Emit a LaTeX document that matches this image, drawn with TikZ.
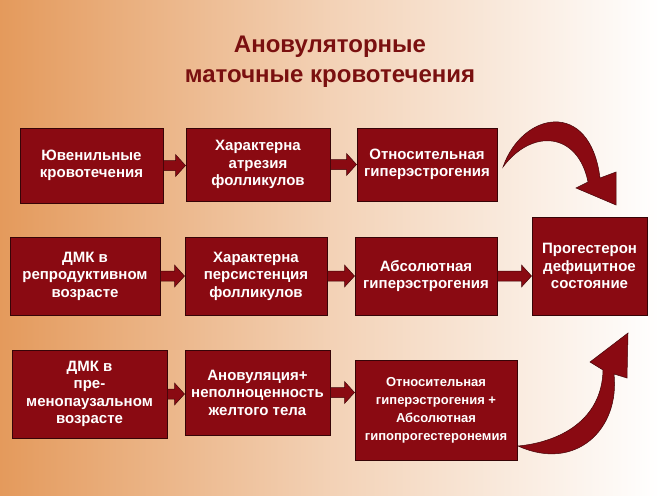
\documentclass[tikz,border=0pt]{standalone}
\usepackage{fontspec}
\setmainfont{Liberation Sans}
\usetikzlibrary{arrows.meta,calc}
\definecolor{boxred}{HTML}{8A0A12}
\definecolor{titred}{HTML}{7A1010}
\definecolor{bgor}{HTML}{E49A5C}
\tikzset{
  box/.style={draw=black!60!boxred, line width=1pt, fill=boxred, text=white, font=\fontsize{15}{17.5}\selectfont\bfseries, align=center, inner sep=1pt},
  blk/.style={fill=boxred, draw=black!50!boxred, line width=0.5pt}
}
\newcommand{\bx}[6]{\node[box, minimum width=#4-#2, minimum height=#5-#3] (#1) at ({(#2+#4)/2},{(#3+#5)/2}) {#6};}
\newcommand{\barrow}[2]{%
  \path (#1.east) coordinate (s) (#2.west |- #1.east) coordinate (e);
  \fill[blk] ($(s)+(0,-5)$) -- ($(e)+(-10,-5)$) -- ($(e)+(-10,-11)$) -- (e) -- ($(e)+(-10,11)$) -- ($(e)+(-10,5)$) -- ($(s)+(0,5)$) -- cycle;}
\begin{document}
\begin{tikzpicture}[x=1pt,y=-1pt]
\shade[left color=bgor, right color=white, middle color=bgor!45] (0,0) rectangle (660,495);
\useasboundingbox (0,0) rectangle (660,495);
\node[text=titred, font=\fontsize{24}{30}\selectfont\bfseries, align=center] (title) at (330,62) {Ановуляторные\\маточные кровотечения};
\bx{a1}{20}{128}{163}{203}{Ювенильные\\кровотечения}
\bx{a2}{186}{128}{330}{201}{Характерна\\атрезия\\фолликулов}
\bx{a3}{357}{128}{497}{201}{Относительная\\гиперэстрогения}
\bx{b1}{10}{237}{160}{315}{ДМК в\\репродуктивном\\возрасте}
\bx{b2}{185}{237}{327}{315}{Характерна\\персистенция\\фолликулов}
\bx{b3}{355}{237}{497}{315}{Абсолютная\\гиперэстрогения}
\bx{p}{532}{217}{647}{315}{Прогестерон\\дефицитное\\состояние}
\bx{c1}{12}{350}{167}{438}{ДМК в\\пре-\\менопаузальном\\возрасте}
\bx{c2}{185}{350}{330}{435}{Ановуляция+\\неполноценность\\желтого тела}
\node[box, minimum width=162, minimum height=100, font=\fontsize{13}{18}\selectfont\bfseries] (c3) at (436,410) {Относительная\\гиперэстрогения +\\Абсолютная\\гипопрогестеронемия};
\barrow{a1}{a2}
\barrow{a2}{a3}
\barrow{b1}{b2}
\barrow{b2}{b3}
\barrow{b3}{p}
\barrow{c1}{c2}
\barrow{c2}{c3}
\fill[blk] (503,167) .. controls (522,112) and (590,98) .. (600,178) -- (616,172) -- (616,205) -- (576,188) -- (588,182) .. controls (578,132) and (532,128) .. (503,167) -- cycle;
\fill[blk] (518,446) .. controls (575,472) and (620,430) .. (614,374) -- (627,378) -- (628,333) -- (590,362) -- (603,370) .. controls (602,420) and (560,442) .. (518,446) -- cycle;
\end{tikzpicture}
\end{document}
